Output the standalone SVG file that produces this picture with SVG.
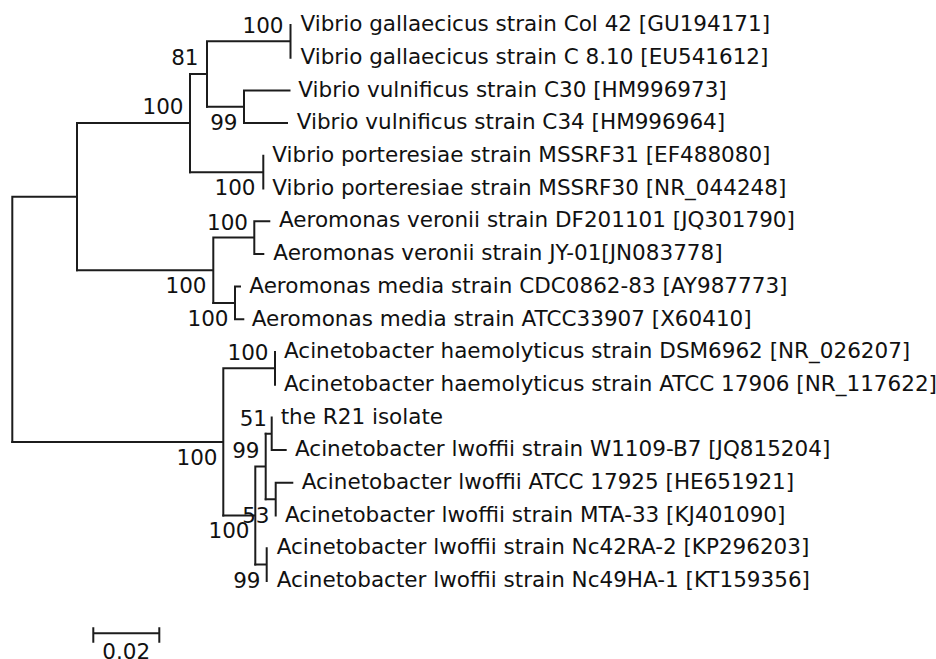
<svg xmlns="http://www.w3.org/2000/svg" width="936" height="659" viewBox="0 0 936 659">
<style>
  text { font-family: "DejaVu Sans", Verdana, sans-serif; font-size: 21.5px; fill: #111; }
  .bs { text-anchor: end; }
  .br { fill: none; stroke: #1c1c1c; stroke-width: 2; stroke-linecap: square; }
</style>
<rect width="936" height="659" fill="#fff"/>
<g id="connectors" class="br">
  <path d="M12.3,196.7 V441.9 M12.3,196.7 H77 M77,123.1 V270.25 M77,123.1 H190"/>
  <path d="M190,74.05 V172.15 M190,74.05 H207 M207,41.35 V106.75 M207,41.35 H290.5 M290.5,25 V57.7"/>
  <path d="M207,106.75 H244 M244,90.4 V123.1 M244,90.4 H289.5 M244,123.1 H287"/>
  <path d="M190,172.15 H263.3 M263.3,155.8 V188.5"/>
  <path d="M77,270.25 H213.3 M213.3,237.55 V302.95 M213.3,237.55 H254.3 M254.3,221.2 V253.9 M254.3,221.2 H269.3 M254.3,253.9 H263.3"/>
  <path d="M213.3,302.95 H235 M235,286.6 V319.3 M235,286.6 H240 M235,319.3 H243.3"/>
  <path d="M12.3,441.9 H223.3 M223.3,368.35 V515.5 M223.3,368.35 H275 M275,352 V384.7"/>
  <path d="M223.3,515.5 H255.3 M255.3,466.45 V564.55 M255.3,466.45 H265.7 M265.7,433.75 V499.15"/>
  <path d="M265.7,433.75 H271.7 M271.7,417.4 V450.1 M271.7,450.1 H285.7"/>
  <path d="M265.7,499.15 H275.7 M275.7,482.8 V515.5 M275.7,482.8 H292.3"/>
  <path d="M255.3,564.55 H266.7 M266.7,548.2 V580.9"/>
</g>
<g id="leaf-1"><text x="300.5" y="31.2">Vibrio gallaecicus strain Col 42 [GU194171]</text></g>
<g id="leaf-2"><text x="300.5" y="63.9">Vibrio gallaecicus strain C 8.10 [EU541612]</text></g>
<g id="leaf-3"><text x="298.3" y="96.6">Vibrio vulnificus strain C30 [HM996973]</text></g>
<g id="leaf-4"><text x="296.7" y="129.3">Vibrio vulnificus strain C34 [HM996964]</text></g>
<g id="leaf-5"><text x="272.3" y="162">Vibrio porteresiae strain MSSRF31 [EF488080]</text></g>
<g id="leaf-6"><text x="272.3" y="194.7">Vibrio porteresiae strain MSSRF30 [NR_044248]</text></g>
<g id="leaf-7"><text x="279" y="227.4">Aeromonas veronii strain DF201101 [JQ301790]</text></g>
<g id="leaf-8"><text x="273.3" y="260.1">Aeromonas veronii strain JY-01[JN083778]</text></g>
<g id="leaf-9"><text x="249.3" y="292.8">Aeromonas media strain CDC0862-83 [AY987773]</text></g>
<g id="leaf-10"><text x="251.7" y="325.5">Aeromonas media strain ATCC33907 [X60410]</text></g>
<g id="leaf-11"><text x="284" y="358.2">Acinetobacter haemolyticus strain DSM6962 [NR_026207]</text></g>
<g id="leaf-12"><text x="284" y="390.9">Acinetobacter haemolyticus strain ATCC 17906 [NR_117622]</text></g>
<g id="leaf-13"><text x="280.7" y="423.6">the R21 isolate</text></g>
<g id="leaf-14"><text x="295" y="456.3">Acinetobacter lwoffii strain W1109-B7 [JQ815204]</text></g>
<g id="leaf-15"><text x="301.7" y="489">Acinetobacter lwoffii ATCC 17925 [HE651921]</text></g>
<g id="leaf-16"><text x="285" y="521.7">Acinetobacter lwoffii strain MTA-33 [KJ401090]</text></g>
<g id="leaf-17"><text x="276.7" y="554.4">Acinetobacter lwoffii strain Nc42RA-2 [KP296203]</text></g>
<g id="leaf-18"><text x="276.7" y="587.1">Acinetobacter lwoffii strain Nc49HA-1 [KT159356]</text></g>
<g id="node-gallaecicus"><text class="bs" x="283.5" y="33">100</text></g>
<g id="node-81"><text class="bs" x="198.5" y="65">81</text></g>
<g id="node-vibrio"><text class="bs" x="183.5" y="114">100</text></g>
<g id="node-vulnificus"><text class="bs" x="237.5" y="130">99</text></g>
<g id="node-porteresiae"><text class="bs" x="255.5" y="195">100</text></g>
<g id="node-veronii"><text class="bs" x="248" y="230">100</text></g>
<g id="node-aeromonas"><text class="bs" x="206.5" y="293">100</text></g>
<g id="node-media"><text class="bs" x="228.5" y="326">100</text></g>
<g id="node-haemolyticus"><text class="bs" x="268.5" y="360">100</text></g>
<g id="node-r21"><text class="bs" x="267" y="426">51</text></g>
<g id="node-lwoffii-sub"><text class="bs" x="259.5" y="458">99</text></g>
<g id="node-acinetobacter"><text class="bs" x="217.5" y="465">100</text></g>
<g id="node-17925"><text class="bs" x="269.5" y="523">53</text></g>
<g id="node-lwoffii"><text class="bs" x="249.5" y="538">100</text></g>
<g id="node-nc"><text class="bs" x="260.5" y="588">99</text></g>
<g id="scale-bar">
  <path class="br" d="M93.3,633.3 H159.3 M93.3,628.3 V641.7 M159.3,628.3 V641.7"/>
  <text x="126.3" y="658.5" text-anchor="middle">0.02</text>
</g>
</svg>
